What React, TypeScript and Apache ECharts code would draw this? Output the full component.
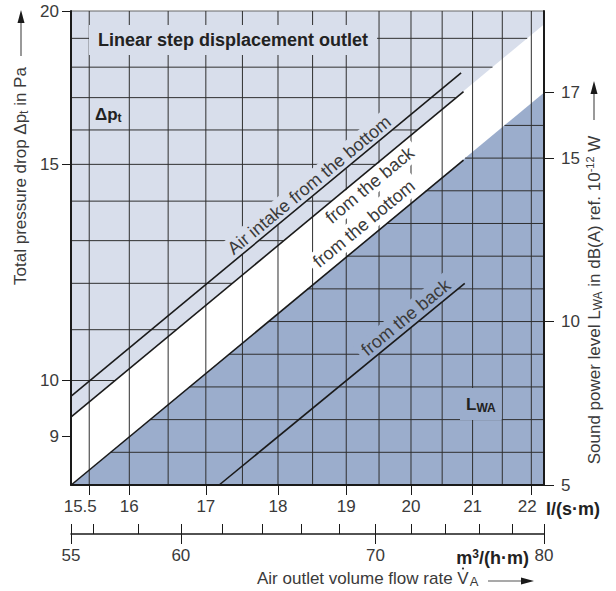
import React, { useEffect, useRef } from 'react';
import * as echarts from 'echarts';

const FONT = '"Liberation Sans", Arial, Helvetica, sans-serif';
const TEXT = '#3a3a3a';
const INK = '#1a1a1a';
const GRIDLINE = '#2f2f2f';
const LIGHT = '#d8deeb';
const DARK = '#9badcc';
const WHITE = '#ffffff';

// axis ranges
const m3Range = [55, 80]; // m³/(h·m)
const dpRange = [8.22, 20]; // Pa (logarithmic)
const lwaRange = [5, 19.5]; // dB(A)

// ticks and grid
const flowTicks = [15.5, 16, 17, 18, 19, 20, 21, 22];
const flowGrid = [15.5, 16, 16.5, 17, 17.5, 18, 18.5, 19, 19.5, 20, 20.5, 21, 21.5, 22];
const m3MinorTicks = [55, 56, 58, 60, 62, 64, 66, 68, 70, 72, 74, 76, 78, 80];
const m3MajorTicks = [55, 60, 70, 80];
const dpTicks = [9, 10, 15, 20];
const dpGrid = [9, 10, 11, 12, 13, 14, 15, 16, 17, 18, 19];
const lwaTicks = [5, 10, 15, 17];
const lwaGrid = [6, 7, 8, 9, 10, 11, 12, 13, 14, 15, 16, 17, 18, 19];

// curves: [flow in l/(s·m), value]
const dpFromBottom = [[15.28, 9.71], [20.81, 17.81]];
const dpFromBack = [[15.28, 9.34], [20.85, 17.19]];
const dpFromBackBoundary = [[15.28, 9.34], [22.22, 19.5]];
const lwaFromBottom = [[15.28, 5], [20.85, 14.94]];
const lwaFromBottomBoundary = [[15.28, 5], [22.22, 17]];
const lwaFromBack = [[17.18, 5], [20.87, 11.17]];

const dpCurveLabels = ['Air intake from the bottom', 'from the back'];
const lwaCurveLabels = ['from the bottom', 'from the back'];

const lg = Math.log10;
const tfDp = (pt: number[]) => [lg(pt[0]), lg(pt[1])];
const tfLwa = (pt: number[]) => [lg(pt[0]), pt[1]];

function buildOption() {
  const flowMin = lg(m3Range[0] / 3.6);
  const flowMax = lg(m3Range[1] / 3.6);

  const labelStyle = { color: TEXT, fontSize: 17, fontFamily: FONT };

  const dpLabelLayout = [
    { at: 18.55, offset: 10.5, bg: LIGHT, line: dpFromBottom },
    { at: 19.24, offset: -12, bg: WHITE, line: dpFromBack },
  ];
  const lwaLabelLayout = [
    { at: 19.41, offset: 14.5, bg: WHITE, line: lwaFromBottom },
    { at: 20.03, offset: 11, bg: DARK, line: lwaFromBack },
  ];

  const makeLabelRenderer = (texts: string[], layout: any[], tf: (p: number[]) => number[]) =>
    (params: any, api: any) => {
      const i = params.dataIndex;
      const L = layout[i];
      const a = api.coord(tf(L.line[0]));
      const b = api.coord(tf(L.line[1]));
      const x = api.coord([api.value(0), api.value(1)])[0];
      const t = (x - a[0]) / (b[0] - a[0]);
      const y = a[1] + t * (b[1] - a[1]);
      const ang = Math.atan2(a[1] - b[1], b[0] - a[0]);
      return {
        type: 'text',
        x: x - L.offset * Math.sin(ang),
        y: y - L.offset * Math.cos(ang),
        rotation: ang,
        style: {
          text: texts[i],
          align: 'center',
          verticalAlign: 'middle',
          fontSize: 18,
          fontFamily: FONT,
          fill: TEXT,
          backgroundColor: L.bg,
          padding: [2, 5],
        },
      };
    };

  const hline = (x1: number, y: number, x2: number) => ({
    type: 'line',
    shape: { x1, y1: y, x2, y2: y },
    style: { stroke: GRIDLINE, lineWidth: 1 },
  });

  const curve = (data: number[][], yAxisIndex: number) => ({
    type: 'line',
    xAxisIndex: 0,
    yAxisIndex,
    data: data.map(yAxisIndex === 0 ? tfDp : tfLwa),
    symbol: 'none',
    silent: true,
    z: 4,
    lineStyle: { color: INK, width: 1.6 },
  });

  const sub = (size = 12, weight = 'normal', fill = TEXT) => ({
    fontSize: size, fontWeight: weight, fontFamily: FONT, fill, verticalAlign: 'bottom', lineHeight: 10,
  });
  const sup = (size = 11, weight = 'normal', fill = TEXT) => ({
    fontSize: size, fontWeight: weight, fontFamily: FONT, fill, verticalAlign: 'top', lineHeight: 10,
  });

  return {
    animation: false,
    title: {
      text: 'Linear step displacement outlet',
      left: 89,
      top: 25,
      padding: [6, 9],
      backgroundColor: LIGHT,
      z: 6,
      textStyle: { fontSize: 18, fontWeight: 'bold', color: '#222', fontFamily: FONT },
    },
    grid: {
      left: 71, top: 11, width: 473, height: 474,
      show: true, backgroundColor: LIGHT, borderColor: '#666', borderWidth: 1,
      containLabel: false, outerBoundsMode: 'none',
    },
    xAxis: [
      {
        type: 'value', position: 'bottom', z: 5, min: flowMin, max: flowMax,
        axisLine: { show: true, onZero: false, lineStyle: { color: INK, width: 2 } },
        axisTick: { show: true, customValues: flowTicks.map(lg), length: 10, lineStyle: { color: INK, width: 1 } },
        axisLabel: {
          show: true, customValues: flowTicks.map(lg), margin: 13, ...labelStyle,
          formatter: (v: number) => {
            const n = Math.round(10 ** v * 10) / 10;
            if (n === 15.5) return '{l|15.5}';
            if (n === 22) return '{r|22}';
            return String(n);
          },
          rich: {
            l: { ...labelStyle, padding: [0, 18, 0, 0] },
            r: { ...labelStyle, padding: [0, 8, 0, 0] },
          },
        },
        splitLine: { show: false },
      },
      {
        type: 'value', position: 'bottom', offset: 49, z: 5, min: lg(m3Range[0]), max: lg(m3Range[1]),
        axisLine: { show: true, onZero: false, lineStyle: { color: INK, width: 1.5 } },
        axisTick: { show: true, inside: true, customValues: m3MinorTicks.map(lg), length: 10, lineStyle: { color: INK, width: 1 } },
        axisLabel: { show: false },
        splitLine: { show: false },
      },
      {
        type: 'value', position: 'bottom', offset: 49, z: 5, min: lg(m3Range[0]), max: lg(m3Range[1]),
        axisLine: { show: false, onZero: false },
        axisTick: { show: true, customValues: m3MajorTicks.map(lg), length: 10, lineStyle: { color: INK, width: 1 } },
        axisLabel: {
          show: true, customValues: m3MajorTicks.map(lg), margin: 13, ...labelStyle,
          formatter: (v: number) => String(Math.round(10 ** v)),
        },
        splitLine: { show: false },
      },
    ],
    yAxis: [
      {
        type: 'value', position: 'left', z: 5, min: lg(dpRange[0]), max: lg(dpRange[1]),
        axisLine: { show: true, onZero: false, lineStyle: { color: INK, width: 2 } },
        axisTick: { show: true, customValues: dpTicks.map(lg), length: 9, lineStyle: { color: INK, width: 1 } },
        axisLabel: {
          show: true, customValues: dpTicks.map(lg), margin: 12, ...labelStyle,
          formatter: (v: number) => String(Math.round(10 ** v)),
        },
        splitLine: { show: false },
      },
      {
        type: 'value', position: 'right', z: 5, min: lwaRange[0], max: lwaRange[1],
        axisLine: { show: true, onZero: false, lineStyle: { color: INK, width: 2 } },
        axisTick: { show: true, customValues: lwaTicks, length: 10, lineStyle: { color: INK, width: 1 } },
        axisLabel: { show: true, customValues: lwaTicks, margin: 17, ...labelStyle },
        splitLine: { show: false },
      },
    ],
    series: [
      {
        type: 'line', xAxisIndex: 0, yAxisIndex: 0, z: 1, silent: true,
        data: dpFromBackBoundary.map(tfDp), symbol: 'none',
        lineStyle: { width: 0, opacity: 0 },
        areaStyle: { color: WHITE, opacity: 1, origin: 'start' },
      },
      {
        type: 'line', xAxisIndex: 0, yAxisIndex: 1, z: 1, silent: true,
        data: lwaFromBottomBoundary.map(tfLwa), symbol: 'none',
        lineStyle: { width: 0, opacity: 0 },
        areaStyle: { color: DARK, opacity: 1, origin: 'start' },
      },
      {
        type: 'custom', xAxisIndex: 0, yAxisIndex: 0, z: 2, silent: true,
        data: flowGrid.map((v) => [lg(v), lg(dpRange[0])]),
        renderItem: (params: any, api: any) => {
          const cs = params.coordSys;
          const x = api.coord([api.value(0), api.value(1)])[0];
          return {
            type: 'line',
            shape: { x1: x, y1: cs.y, x2: x, y2: cs.y + cs.height },
            style: { stroke: GRIDLINE, lineWidth: 1 },
          };
        },
      },
      {
        type: 'custom', xAxisIndex: 0, yAxisIndex: 0, z: 2, silent: true,
        data: dpGrid.map((p) => [flowMin, lg(p)]),
        renderItem: (params: any, api: any) => {
          const cs = params.coordSys;
          const y = api.coord([api.value(0), api.value(1)])[1];
          const a = api.coord(tfDp(dpFromBackBoundary[0]));
          const b = api.coord(tfDp(dpFromBackBoundary[1]));
          const xi = a[0] + ((y - a[1]) * (b[0] - a[0])) / (b[1] - a[1]);
          const x2 = Math.min(xi, cs.x + cs.width);
          if (x2 <= cs.x + 0.5) return null;
          return hline(cs.x, y, x2);
        },
      },
      {
        type: 'custom', xAxisIndex: 0, yAxisIndex: 1, z: 2, silent: true,
        data: lwaGrid.map((l) => [flowMax, l]),
        renderItem: (params: any, api: any) => {
          const cs = params.coordSys;
          const y = api.coord([api.value(0), api.value(1)])[1];
          const a = api.coord(tfLwa(lwaFromBottomBoundary[0]));
          const b = api.coord(tfLwa(lwaFromBottomBoundary[1]));
          const xi = a[0] + ((y - a[1]) * (b[0] - a[0])) / (b[1] - a[1]);
          const x1 = Math.max(xi, cs.x);
          if (x1 >= cs.x + cs.width - 0.5) return null;
          return hline(x1, y, cs.x + cs.width);
        },
      },
      {
        type: 'custom', xAxisIndex: 0, yAxisIndex: 0, z: 3, silent: true,
        data: dpLabelLayout.map((L) => [lg(L.at), lg(dpRange[0])]),
        renderItem: makeLabelRenderer(dpCurveLabels, dpLabelLayout, tfDp),
      },
      {
        type: 'custom', xAxisIndex: 0, yAxisIndex: 1, z: 3, silent: true,
        data: lwaLabelLayout.map((L) => [lg(L.at), lwaRange[0]]),
        renderItem: makeLabelRenderer(lwaCurveLabels, lwaLabelLayout, tfLwa),
      },
      curve(dpFromBottom, 0),
      curve(dpFromBack, 0),
      curve(lwaFromBottom, 1),
      curve(lwaFromBack, 1),
    ],
    graphic: {
      elements: [
        {
          type: 'text', x: 92, y: 114, z: 10,
          style: {
            text: '{b|Δp}{s|t}', align: 'left', verticalAlign: 'middle',
            backgroundColor: LIGHT, padding: [3, 3],
            rich: {
              b: { fontSize: 17, fontWeight: 'bold', fontFamily: FONT, fill: '#222', lineHeight: 20 },
              s: sub(12, 'bold', '#222'),
            },
          },
        },
        {
          type: 'text', x: 460, y: 404, z: 10,
          style: {
            text: '{b|L}{s|WA}', align: 'left', verticalAlign: 'middle',
            backgroundColor: DARK, padding: [6, 6],
            rich: {
              b: { fontSize: 17, fontWeight: 'bold', fontFamily: FONT, fill: '#222', lineHeight: 20 },
              s: sub(12, 'bold', '#222'),
            },
          },
        },
        {
          type: 'text', x: 546, y: 509, z: 10,
          style: {
            text: 'l/(s·m)', align: 'left', verticalAlign: 'middle',
            fontSize: 18, fontWeight: 'bold', fontFamily: FONT, fill: '#222',
          },
        },
        {
          type: 'text', x: 529, y: 558, z: 10,
          style: {
            text: '{b|m}{p|3}{b|/(h·m)}', align: 'right', verticalAlign: 'middle',
            rich: {
              b: { fontSize: 18, fontWeight: 'bold', fontFamily: FONT, fill: '#222', lineHeight: 20 },
              p: sup(12, 'bold', '#222'),
            },
          },
        },
        {
          type: 'text', x: 257, y: 578, z: 10,
          style: {
            text: 'Air outlet volume flow rate V{s|A}', align: 'left', verticalAlign: 'middle',
            fontSize: 17, fontFamily: FONT, fill: TEXT, lineHeight: 20,
            rich: { s: { ...sub(13), padding: [0, 0, 0, 1] } },
          },
        },
        { type: 'circle', z: 10, shape: { cx: 463, cy: 568.5, r: 1.1 }, style: { fill: TEXT } },
        { type: 'line', z: 10, shape: { x1: 488, y1: 581, x2: 523, y2: 581 }, style: { stroke: '#555', lineWidth: 1.2 } },
        { type: 'polygon', z: 10, shape: { points: [[534, 581], [521, 577.5], [521, 584.5]] }, style: { fill: INK } },
        {
          type: 'text', x: 20, y: 176, z: 10, rotation: Math.PI / 2,
          style: {
            text: 'Total pressure drop Δp{s|t} in Pa', align: 'center', verticalAlign: 'middle',
            fontSize: 17, fontFamily: FONT, fill: TEXT, lineHeight: 20,
            rich: { s: sub(12) },
          },
        },
        { type: 'line', z: 10, shape: { x1: 21, y1: 56, x2: 21, y2: 22 }, style: { stroke: '#555', lineWidth: 1.2 } },
        { type: 'polygon', z: 10, shape: { points: [[21, 10], [17.5, 23], [24.5, 23]] }, style: { fill: INK } },
        {
          type: 'text', x: 594, y: 300, z: 10, rotation: Math.PI / 2,
          style: {
            text: 'Sound power level L{s|WA} in dB(A) ref. 10{p|-12} W', align: 'center', verticalAlign: 'middle',
            fontSize: 17, fontFamily: FONT, fill: TEXT, lineHeight: 20,
            rich: { s: sub(12), p: sup(11) },
          },
        },
        { type: 'line', z: 10, shape: { x1: 594, y1: 120, x2: 594, y2: 93 }, style: { stroke: '#555', lineWidth: 1.2 } },
        { type: 'polygon', z: 10, shape: { points: [[594, 81], [590.5, 94], [597.5, 94]] }, style: { fill: INK } },
      ],
    },
  };
}

export default function App() {
  const ref = useRef<HTMLDivElement>(null);
  useEffect(() => {
    if (!ref.current) return;
    const chart = echarts.init(ref.current, undefined, { renderer: 'svg' });
    chart.setOption(buildOption() as any);
    return () => chart.dispose();
  }, []);
  return (
    <div
      ref={ref}
      style={{ position: 'absolute', left: 0, top: 0, width: 616, height: 591, background: '#fff' }}
    />
  );
}
